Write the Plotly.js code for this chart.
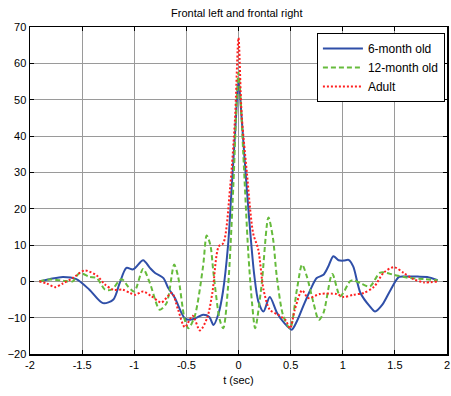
<!DOCTYPE html>
<html>
<head>
<meta charset="utf-8">
<script src="https://cdn.plot.ly/plotly-3.0.1.min.js"></script>
<style>html,body{margin:0;padding:0;background:#fff;}#chart{width:451px;height:396px;}</style>
</head>
<body>
<div id="chart"></div>
<script>
// 6-month old
var tInfant6 = [-1.91,-1.81,-1.685,-1.556,-1.43,-1.30,-1.20,-1.14,-1.075,-1.01,-0.915,-0.85,-0.80,-0.72,-0.675,-0.61,-0.55,-0.515,-0.47,-0.40,-0.34,-0.28,-0.24,-0.19,-0.15,-0.10,-0.065,-0.03,0,0.03,0.06,0.10,0.15,0.19,0.24,0.30,0.37,0.44,0.51,0.56,0.62,0.69,0.75,0.815,0.86,0.91,0.96,1.01,1.056,1.10,1.17,1.26,1.31,1.38,1.46,1.54,1.62,1.72,1.81,1.91];
var yInfant6 = [0,0.6,1.2,0.6,-2.3,-6.0,-5.0,-0.5,3.7,3.3,5.8,3.7,2.3,0.9,-1.8,-4.6,-8.5,-10.2,-10.6,-10.0,-9.2,-9.8,-12.0,-8.7,-3,10,26,42,55.5,45,33,18,2,-5.5,-8.3,-4.3,-8.7,-11.5,-13.3,-11,-6.9,-2.3,0.9,1.8,4,6.9,5.8,5.7,5.9,4.1,-3.2,-6.9,-8.3,-6.4,-2.3,1.2,1.3,1.3,1.2,0.3];
// 12-month old
var tInfant12 = [-1.91,-1.81,-1.685,-1.59,-1.525,-1.43,-1.36,-1.28,-1.22,-1.12,-1.06,-1.0,-0.915,-0.85,-0.755,-0.69,-0.617,-0.58,-0.515,-0.48,-0.42,-0.34,-0.305,-0.27,-0.24,-0.18,-0.146,-0.10,-0.05,-0.02,0,0.02,0.046,0.094,0.13,0.16,0.22,0.287,0.33,0.367,0.43,0.495,0.56,0.61,0.655,0.72,0.77,0.815,0.9,0.976,1.07,1.10,1.17,1.26,1.36,1.49,1.62,1.78,1.91];
var yInfant12 = [0,0.5,0.2,0,2.3,1.2,0.9,-2.3,-2.3,0.6,-1.4,-2.8,3.4,-0.5,-7.8,-6.0,4.6,1.4,-10.6,-12.9,-9.6,4.1,12.6,10,2.3,-10.6,-12.9,-1.4,26,48,57.5,50,35,7.8,-6,-12.9,-1.4,17.6,12,1.4,-9.6,-12.9,-2.3,4.6,1.4,-6,-10.6,-8.7,2.0,-4.1,0,0.3,-0.5,-1.4,2.4,1.8,1.0,0.6,0.3];
// Adult
var tAdult = [-1.91,-1.84,-1.76,-1.685,-1.59,-1.475,-1.36,-1.28,-1.20,-1.11,-1.04,-0.99,-0.915,-0.835,-0.74,-0.64,-0.58,-0.515,-0.44,-0.37,-0.30,-0.25,-0.19,-0.146,-0.08,-0.034,0,0.03,0.08,0.14,0.19,0.24,0.30,0.38,0.45,0.495,0.54,0.61,0.67,0.78,0.94,1.01,1.10,1.2,1.30,1.39,1.49,1.585,1.68,1.78,1.91];
var yAdult = [0,-0.6,-1.6,-0.6,0.9,3.0,1.6,-0.9,-2.3,-2.3,-3.2,-3.7,-2.8,-4.1,-5.8,-3.2,-7.8,-12.6,-9.5,-13.5,-10,-3,9.6,10.5,26,44.5,67,46,30,13.3,8.7,-2.3,-7.8,-9.2,-10.6,-12.9,-7.8,-2.5,-4.6,-3.5,-3.5,-4.3,-3.7,-3.2,-1.5,2.3,3.9,2.3,0.6,-0.3,0];

var seriesNames = ["6-month old","12-month old","Adult"];
var xTicks = [-2,-1.5,-1,-0.5,0,0.5,1,1.5,2];
var xTickLabels = ["-2","-1.5","-1","-0.5","0","0.5","1","1.5","2"];
var yTicks = [-20,-10,0,10,20,30,40,50,60,70];

var font = "Liberation Sans, Arial, sans-serif";
var traces = [
  {x:tInfant6, y:yInfant6, name:seriesNames[0], mode:"lines",
   line:{color:"#2f4fa8", width:2, shape:"spline", smoothing:0.8}},
  {x:tInfant12, y:yInfant12, name:seriesNames[1], mode:"lines",
   line:{color:"#66bb3c", width:2, dash:"5px,3px", shape:"spline", smoothing:0.8}},
  {x:tAdult, y:yAdult, name:seriesNames[2], mode:"lines",
   line:{color:"#ff2020", width:2, dash:"2px,2px", shape:"spline", smoothing:0.8}}
];
var axisCommon = {
  showline:true, linecolor:"#000", linewidth:1.5, mirror:"ticks",
  ticks:"inside", ticklen:4, tickcolor:"#000", tickwidth:1,
  showgrid:true, gridcolor:"#9a9a9a", gridwidth:1, zeroline:false,
  tickfont:{family:font, size:11, color:"#000"}
};
var layout = {
  width:451, height:396,
  margin:{l:30, r:4, t:27, b:42},
  paper_bgcolor:"#fff", plot_bgcolor:"#fff",
  font:{family:font, size:11, color:"#000"},
  title:{text:"Frontal left and frontal right", font:{family:font, size:11, color:"#000"}, x:0.525, xanchor:"center", y:0.967, yanchor:"middle"},
  xaxis:Object.assign({}, axisCommon, {range:[-2,2], tickvals:xTicks, ticktext:xTickLabels,
    title:{text:"t (sec)", font:{family:font, size:11, color:"#000"}, standoff:6}}),
  yaxis:Object.assign({}, axisCommon, {range:[-20,70], tickvals:yTicks}),
  showlegend:true,
  legend:{x:0.995, xanchor:"right", y:0.982, yanchor:"top", bgcolor:"#fff",
    bordercolor:"#000", borderwidth:1, font:{family:font, size:12, color:"#000"},
    tracegroupgap:0, itemwidth:40}
};
Plotly.newPlot("chart", traces, layout, {displayModeBar:false, staticPlot:true});
</script>
</body>
</html>
